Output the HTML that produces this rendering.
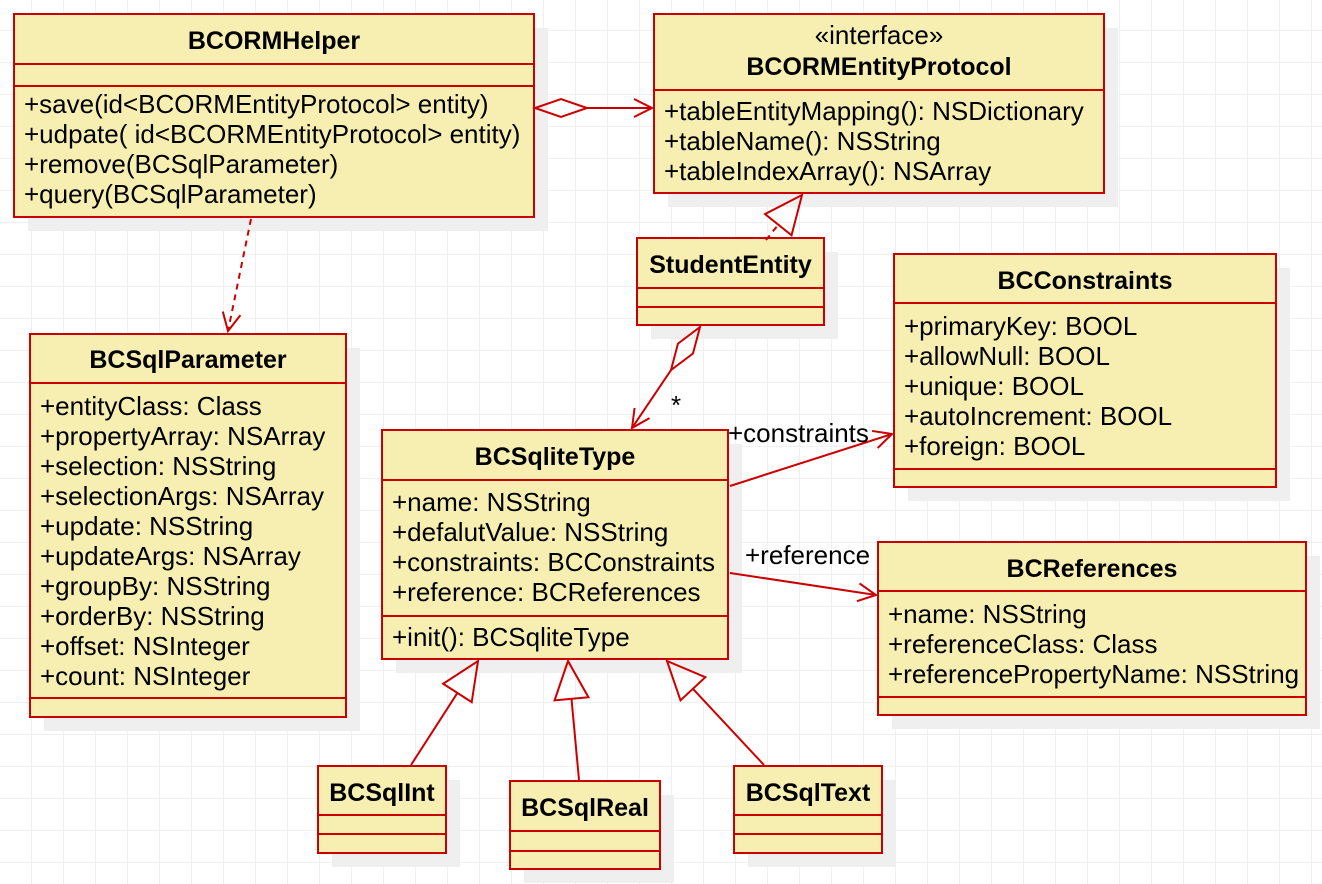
<!DOCTYPE html>
<html><head><meta charset="utf-8"><style>
html,body{margin:0;padding:0;background:#fff;}
svg{display:block;}
text{font-family:"Liberation Sans",sans-serif;font-size:26px;fill:#000;}
.t{font-weight:bold;text-anchor:middle;font-size:25px;}
.box{fill:#f7efb1;stroke:#cc0000;stroke-width:2;}
.sh{fill:#efefef;}
.dv{stroke:#cc0000;stroke-width:2;}
.ln{stroke:#cc0000;stroke-width:2;fill:none;}
</style></head><body>
<svg id="s" width="1322" height="884" viewBox="0 0 1322 884">
<defs><pattern id="g" x="31" y="30" width="32" height="32" patternUnits="userSpaceOnUse"><path d="M0 0H32M0 0V32" stroke="#ececec" stroke-width="1.5" fill="none"/></pattern></defs>
<rect width="1322" height="884" fill="url(#g)"/>
<g id="boxes"></g>
<g id="links"></g>
<text x="671" y="414">*</text>
<text x="728" y="442">+constraints</text>
<text x="745" y="564">+reference</text>
</svg>
<script>
const NS='http://www.w3.org/2000/svg';
const B=document.getElementById('boxes'),L=document.getElementById('links');
function mk(tag,attrs,parent){const e=document.createElementNS(NS,tag);for(const k in attrs)e.setAttribute(k,attrs[k]);parent.appendChild(e);return e;}
const classes=[
 {n:'bcormhelper',x1:14,y1:14,x2:534,y2:217,title:['BCORMHelper'],ty:[49],dv:[64,86],ops:['+save(id<BCORMEntityProtocol> entity)','+udpate( id<BCORMEntityProtocol> entity)','+remove(BCSqlParameter)','+query(BCSqlParameter)'],oy:113},
 {n:'bcormentityprotocol',x1:654,y1:14,x2:1104,y2:193,title:['«interface»','BCORMEntityProtocol'],ty:[44,75],dv:[90],ops:['+tableEntityMapping(): NSDictionary','+tableName(): NSString','+tableIndexArray(): NSArray'],oy:120},
 {n:'studententity',x1:637,y1:238,x2:824,y2:325,title:['StudentEntity'],ty:[273],dv:[288,307],ops:[],oy:0},
 {n:'bcconstraints',x1:894,y1:254,x2:1276,y2:487,title:['BCConstraints'],ty:[289],dv:[303,469],ops:['+primaryKey: BOOL','+allowNull: BOOL','+unique: BOOL','+autoIncrement: BOOL','+foreign: BOOL'],oy:335},
 {n:'bcsqlparameter',x1:30,y1:334,x2:346,y2:717,title:['BCSqlParameter'],ty:[368],dv:[383,698],ops:['+entityClass: Class','+propertyArray: NSArray','+selection: NSString','+selectionArgs: NSArray','+update: NSString','+updateArgs: NSArray','+groupBy: NSString','+orderBy: NSString','+offset: NSInteger','+count: NSInteger'],oy:415},
 {n:'bcsqlitetype',x1:382,y1:430,x2:728,y2:659,title:['BCSqliteType'],ty:[465],dv:[480,616],ops:['+name: NSString','+defalutValue: NSString','+constraints: BCConstraints','+reference: BCReferences'],oy:511,ops2:['+init(): BCSqliteType'],oy2:646},
 {n:'bcreferences',x1:878,y1:542,x2:1306,y2:715,title:['BCReferences'],ty:[577],dv:[591,697],ops:['+name: NSString','+referenceClass: Class','+referencePropertyName: NSString'],oy:623},
 {n:'bcsqlint',x1:318,y1:766,x2:446,y2:853,title:['BCSqlInt'],ty:[801],dv:[815,834],ops:[],oy:0},
 {n:'bcsqlreal',x1:510,y1:781,x2:660,y2:869,title:['BCSqlReal'],ty:[816],dv:[831,851],ops:[],oy:0},
 {n:'bcsqltext',x1:734,y1:766,x2:882,y2:853,title:['BCSqlText'],ty:[801],dv:[815,834],ops:[],oy:0}
];
classes.forEach(c=>{
 const g=mk('g',{},B);
 
 
 mk('rect',{class:'sh',x:c.x1+14,y:c.y1+14,width:c.x2-c.x1,height:c.y2-c.y1},g);
 mk('rect',{class:'box',x:c.x1,y:c.y1,width:c.x2-c.x1,height:c.y2-c.y1},g);
 c.dv.forEach(y=>mk('line',{class:'dv',x1:c.x1,x2:c.x2,y1:y,y2:y},g));
 c.title.forEach((t,i)=>{const stereo=c.title.length>1&&i==0;const e=mk('text',{class:stereo?'':'t',x:(c.x1+c.x2)/2,y:c.ty[i]},g);if(stereo){e.setAttribute('text-anchor','middle');e.setAttribute('font-size','24');}e.textContent=t;
  
  });
 const draw=(arr,y0)=>arr.forEach((t,i)=>{const e=mk('text',{x:c.x1+10,y:y0+i*30},g);e.textContent=t;
  
  });
 draw(c.ops,c.oy); if(c.ops2)draw(c.ops2,c.oy2);
});
function unit(ax,ay,bx,by){const dx=bx-ax,dy=by-ay,l=Math.hypot(dx,dy);return [dx/l,dy/l];}
function line(a,b,name,dash){const e=mk('line',{class:'ln',x1:a[0],y1:a[1],x2:b[0],y2:b[1]},L);if(dash)e.setAttribute('stroke-dasharray','6,5');
 
 }
function openArrow(from,tip,name){const [ux,uy]=unit(from[0],from[1],tip[0],tip[1]);const bx=tip[0]-ux*18,by=tip[1]-uy*18;
 const e=mk('polyline',{class:'ln',points:`${bx-uy*9},${by+ux*9} ${tip[0]},${tip[1]} ${bx+uy*9},${by-ux*9}`},L);
 
 }
function tri(from,tip,name){const [ux,uy]=unit(from[0],from[1],tip[0],tip[1]);const bx=tip[0]-ux*38,by=tip[1]-uy*38;
 const e=mk('polygon',{class:'ln',fill:'#fff',points:`${bx-uy*17},${by+ux*17} ${tip[0]},${tip[1]} ${bx+uy*17},${by-ux*17}`},L);
 
 return [bx,by];}
function diamond(start,toward,name){const [ux,uy]=unit(start[0],start[1],toward[0],toward[1]);const m=[start[0]+ux*26,start[1]+uy*26],e2=[start[0]+ux*52,start[1]+uy*52];
 const e=mk('polygon',{class:'ln',fill:'#fff',points:`${start[0]},${start[1]} ${m[0]-uy*9},${m[1]+ux*9} ${e2[0]},${e2[1]} ${m[0]+uy*9},${m[1]-ux*9}`},L);
 
 return e2;}
let p=diamond([535,108],[652,108],'aggregation-diamond-helper');line(p,[652,108],'helper-protocol-link');openArrow(p,[652,108],'helper-protocol-arrow');
line([251,219],[228,331],'dependency-link',true);openArrow([251,219],[228,331],'dependency-arrow');
let b=tri([766,240],[802,195],'realization-triangle');line([766,240],b,'realization-link',true);
p=diamond([700,327],[632,428],'aggregation-diamond-student');line(p,[632,428],'student-sqlitetype-link');openArrow(p,[632,428],'student-sqlitetype-arrow');
line([730,486],[892,434],'constraints-link');openArrow([730,486],[892,434],'constraints-arrow');
line([730,573],[876,595],'reference-link');openArrow([730,573],[876,595],'reference-arrow');
[[[411,765],[478,661],'int'],[[579,780],[568,661],'real'],[[764,765],[667,661],'text']].forEach(([f,t,n])=>{const bb=tri(f,t,'generalization-triangle-'+n);line(f,bb,'generalization-link-'+n);});
</script>
</body></html>
